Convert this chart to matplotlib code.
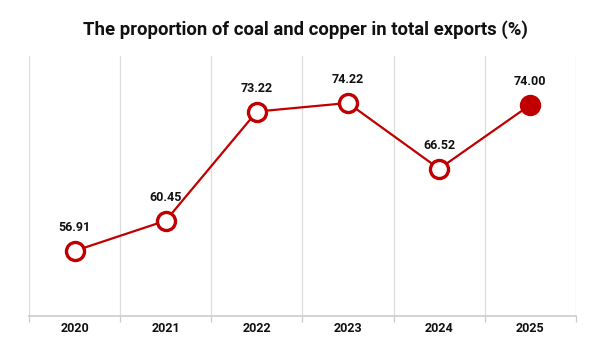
import matplotlib
matplotlib.use("Agg")
import matplotlib.pyplot as plt

years = ["2020", "2021", "2022", "2023", "2024", "2025"]
values = [56.91, 60.45, 73.22, 74.22, 66.52, 74.00]
title = "The proportion of coal and copper in total exports (%)"

red = "#c00000"
plt.rcParams['font.family'] = ['Roboto', 'DejaVu Sans']

fig = plt.figure(figsize=(6.1, 3.46), dpi=100)
ax = fig.add_axes([0.0475, 0.0867, 0.8965, 0.751])
x = list(range(len(years)))
ax.plot(x, values, color=red, lw=1.6, zorder=2)
for i, v in enumerate(values):
    face = red if i == len(values) - 1 else "white"
    ax.plot([i], [v], marker="o", ms=13, mfc=face, mec=red, mew=2.4, zorder=3)
    ax.annotate(f"{v:.2f}", (i, v), xytext=(0, 12), textcoords="offset points",
                ha="center", va="bottom", fontsize=9, fontweight="bold", color="#111111")

ax.set_xlim(-0.5, len(years) - 0.5)
ax.set_ylim(49.3, 79.7)
for b in [i - 0.5 for i in range(len(years) + 1)]:
    ax.axvline(b, color="#dddddd", lw=0.9, zorder=0)
ax.set_xticks(x)
ax.set_xticklabels(years, fontsize=9, fontweight="bold", color="#111111")
ax.set_xticks([i - 0.5 for i in range(len(years) + 1)], minor=True)
ax.tick_params(axis="x", which="major", length=0, pad=4)
ax.tick_params(axis="x", which="minor", length=4, color="#cccccc", width=0.9)
ax.set_yticks([])
for s in ["top", "left", "right"]:
    ax.spines[s].set_visible(False)
ax.spines["bottom"].set_color("#cccccc")
ax.spines["bottom"].set_linewidth(1.2)

fig.text(0.5, 0.915, title, ha="center", va="center", fontsize=13.3, fontweight="bold", color="#111111")
fig.savefig("out.png", dpi=100, facecolor="white")
